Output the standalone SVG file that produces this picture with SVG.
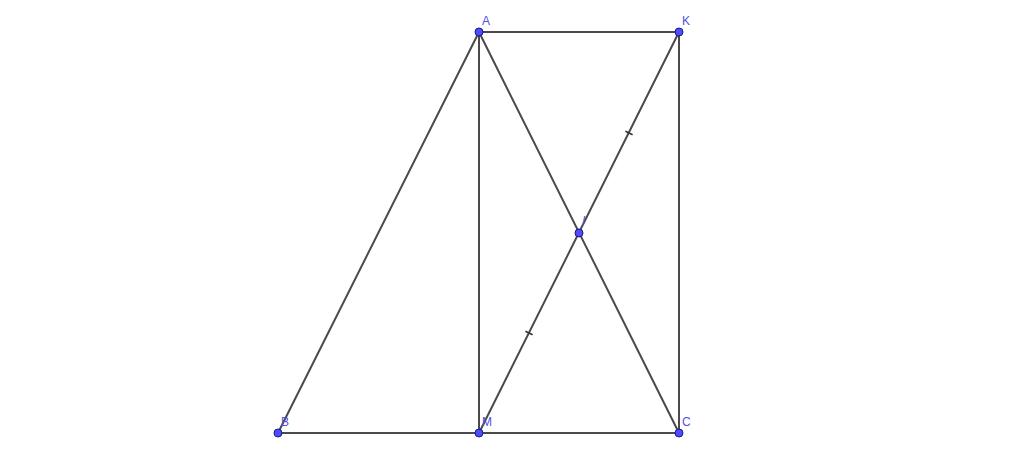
<svg xmlns="http://www.w3.org/2000/svg" width="1024" height="453" viewBox="0 0 1024 453">
<style>
.seg{stroke:#4a4a4a;stroke-width:2;fill:none;stroke-linecap:round}
.tick{stroke:#333;stroke-width:1.6}
.pt{fill:#4d4dff;stroke:#1a1a80;stroke-width:1}
.lbl{font-family:"Liberation Sans",Arial,sans-serif;font-size:12px;fill:#5050e0}
</style>
<rect width="1024" height="453" fill="#ffffff"/>
<g id="connectors">
<line class="seg" x1="479" y1="32" x2="679" y2="32"/>
<line class="seg" x1="479" y1="32" x2="278" y2="433"/>
<line class="seg" x1="479" y1="32" x2="479" y2="433"/>
<line class="seg" x1="479" y1="32" x2="679" y2="433"/>
<line class="seg" x1="679" y1="32" x2="679" y2="433"/>
<line class="seg" x1="679" y1="32" x2="479" y2="433"/>
<line class="seg" x1="278" y1="433" x2="679" y2="433"/>
<line class="tick" x1="625.4" y1="131.2" x2="632.6" y2="134.8"/>
<line class="tick" x1="525.4" y1="331.2" x2="532.6" y2="334.8"/>
</g>
<g id="A"><circle class="pt" cx="479" cy="32" r="4"/><text class="lbl" x="482" y="25">A</text></g>
<g id="K"><circle class="pt" cx="679" cy="32" r="4"/><text class="lbl" x="682" y="25">K</text></g>
<g id="B"><circle class="pt" cx="278" cy="433" r="4"/><text class="lbl" x="281" y="426">B</text></g>
<g id="M"><circle class="pt" cx="479" cy="433" r="4"/><text class="lbl" x="482" y="426">M</text></g>
<g id="C"><circle class="pt" cx="679" cy="433" r="4"/><text class="lbl" x="682" y="426">C</text></g>
<g id="I"><circle class="pt" cx="579" cy="233" r="4"/><text class="lbl" x="582" y="225" font-style="italic">I</text></g>
</svg>
